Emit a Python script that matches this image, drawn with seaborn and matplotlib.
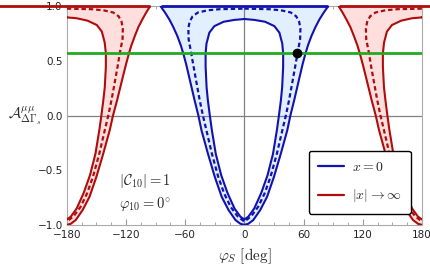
import numpy as np
import matplotlib
matplotlib.use("Agg")
import matplotlib.pyplot as plt
from matplotlib.lines import Line2D
from matplotlib.ticker import MultipleLocator
import seaborn as sns


# ---------------------------------------------------------------------------
# curves, half profiles (the bands are mirror symmetric)
# x = 0 band, centred on phi_S = 0 : phi >= 0 half
blue_outer_phi = [0, 4, 9, 16, 23, 30, 37, 43.5, 46.6, 50.5, 56, 59, 61.8, 64.5, 68, 72, 76,
                  80.5, 84.8]
blue_outer_A   = [-1.0, -0.99, -0.956, -0.865, -0.743, -0.56, -0.346, -0.133, 0.0, 0.142,
                  0.355, 0.47, 0.565, 0.645, 0.73, 0.81, 0.88, 0.945, 1.0]

blue_inner_phi = [0, 10, 21, 30.4, 35.5, 38.4, 39.3, 39.3, 38.3, 37, 35, 33, 29, 23.5, 17, 10, 4, 0]
blue_inner_A   = [0.885, 0.877, 0.86, 0.82, 0.76, 0.66, 0.57, 0.45, 0.26, 0.14, 0.0, -0.13,
                  -0.35, -0.545, -0.71, -0.85, -0.925, -0.95]

blue_dash_phi = [0, 25, 37, 47, 52.5, 55.5, 56.8, 56.5, 54, 51.5, 48.5, 45.3, 42, 38.5, 33,
                 26.5, 20.5, 14, 7, 0]
blue_dash_A   = [0.98, 0.975, 0.965, 0.945, 0.91, 0.86, 0.8, 0.7, 0.578, 0.45, 0.3, 0.142,
                 0.0, -0.133, -0.346, -0.56, -0.712, -0.834, -0.92, -0.97]

# |x| -> inf band, centred on phi_S = +-180 : distance from the edge
red_outer_dphi = [0, 4, 9, 16, 23, 30, 37, 43.5, 46.8, 51, 56.8, 60, 63, 65.5, 69, 72.5, 76.5,
                  80.5, 84.3]
red_outer_A    = [-1.0, -0.99, -0.956, -0.865, -0.743, -0.56, -0.346, -0.133, 0.0, 0.142,
                  0.355, 0.47, 0.57, 0.645, 0.73, 0.81, 0.88, 0.945, 1.0]

red_inner_dphi = [0, 10, 21, 30.4, 35.5, 38.4, 39.6, 39.6, 38.5, 37, 35, 33, 29, 23.5, 17, 10, 4, 0]
red_inner_A    = [0.9, 0.892, 0.87, 0.83, 0.77, 0.67, 0.57, 0.45, 0.26, 0.14, 0.0, -0.13,
                  -0.35, -0.545, -0.71, -0.85, -0.925, -0.95]

red_dash_dphi = [0, 25, 37, 47, 52.5, 55.5, 56.8, 56.5, 53.8, 51.5, 48.5, 45.3, 42, 38.5, 33,
                 26.5, 20.5, 14, 7, 0]
red_dash_A    = [0.98, 0.975, 0.965, 0.945, 0.91, 0.86, 0.8, 0.7, 0.578, 0.45, 0.3, 0.142,
                 0.0, -0.133, -0.346, -0.56, -0.712, -0.834, -0.92, -0.97]

# measured value (green line) and the crossing point
A_meas = 0.578
point_phi = 53.8

x_ticks = [-180, -120, -60, 0, 60, 120, 180]
y_ticks = [-1.0, -0.5, 0.0, 0.5, 1.0]

BLUE = "#1212b0"
RED = "#b00c0c"
GREEN = "#22aa22"
BLUE_FILL = "#e2efff"
RED_FILL = "#ffdede"


def open_curve(c, phi, A):
    # outer edge: mirrored around the centre c
    phi = np.asarray(phi)
    A = np.asarray(A)
    x = np.r_[c - phi[::-1], c + phi[1:]]
    y = np.r_[A[::-1], A[1:]]
    return x, y


def loop_curve(c, phi, A):
    # closed loop: right half then mirrored left half
    phi = np.asarray(phi)
    A = np.asarray(A)
    x = np.r_[c + phi, c - phi[::-1]]
    y = np.r_[A, A[::-1]]
    return x, y


sns.set_theme(style="ticks")
plt.rcParams["font.family"] = ["DejaVu Sans"]
plt.rcParams["mathtext.fontset"] = "cm"

fig = plt.figure(figsize=(4.31, 2.69), dpi=100)
ax = fig.add_axes([0.155, 0.164, 0.824, 0.812])

bands = [
    (0, blue_outer_phi, blue_outer_A, blue_inner_phi, blue_inner_A,
     blue_dash_phi, blue_dash_A, BLUE, BLUE_FILL),
    (-180, red_outer_dphi, red_outer_A, red_inner_dphi, red_inner_A,
     red_dash_dphi, red_dash_A, RED, RED_FILL),
    (180, red_outer_dphi, red_outer_A, red_inner_dphi, red_inner_A,
     red_dash_dphi, red_dash_A, RED, RED_FILL),
]

for c, po, ao, pi, ai, pd_, ad, col, fcol in bands:
    xo, yo = open_curve(c, po, ao)
    xi, yi = loop_curve(c, pi, ai)
    xd, yd = loop_curve(c, pd_, ad)
    ax.fill(xo, yo, color=fcol, lw=0, zorder=1)
    ax.fill(xi, yi, color="white", lw=0, zorder=1.1)
    sns.lineplot(x=xo, y=yo, sort=False, estimator=None, color=col, lw=1.5, ax=ax, zorder=4)
    sns.lineplot(x=xi, y=yi, sort=False, estimator=None, color=col, lw=1.5, ax=ax, zorder=4)
    sns.lineplot(x=xd, y=yd, sort=False, estimator=None, color=col, lw=1.6,
                 linestyle=(0, (2.0, 1.3)), ax=ax, zorder=4)
    # the band edge runs along A = 1 between the two branches
    ax.hlines(1.0, c - po[-1], c + po[-1], color=col, lw=2.0, zorder=5, clip_on=False)

ax.axhline(0, color="#808080", lw=0.9, zorder=2)
ax.axvline(0, color="#808080", lw=0.9, zorder=2)
ax.axhline(A_meas, color=GREEN, lw=2.0, zorder=6)
ax.plot([point_phi], [A_meas], "o", color="black", ms=6, zorder=7)

ax.set_xlim(-180, 180)
ax.set_ylim(-1.0, 1.0)
ax.set_xticks(x_ticks)
ax.set_yticks(y_ticks)
ax.xaxis.set_minor_locator(MultipleLocator(15))
ax.yaxis.set_minor_locator(MultipleLocator(0.1))
ax.tick_params(which="both", direction="in", top=True, right=True, color="#999999",
               labelsize=7.5, labelcolor="#222222")
ax.tick_params(which="major", length=4, width=0.8)
ax.tick_params(which="minor", length=2.3, width=0.6)
ax.tick_params(axis="x", pad=4)
ax.tick_params(axis="y", pad=3)
for s in ax.spines.values():
    s.set_color("#aaaaaa")
    s.set_linewidth(0.8)

ax.set_xlabel(r"$\varphi_S\ [\mathrm{deg}]$", fontsize=11, labelpad=4)
ax.set_ylabel(r"$\mathcal{A}^{\mu\mu}_{\Delta\Gamma_s}$", fontsize=11, rotation=0,
              va="center", ha="center")
ax.yaxis.set_label_coords(-0.118, 0.5)

ax.text(-127, -0.6, r"$|\mathcal{C}_{10}| = 1$", fontsize=10.5, va="center", ha="left")
ax.text(-127, -0.81, r"$\varphi_{10} = 0^{\circ}$", fontsize=10.5, va="center", ha="left")

handles = [Line2D([], [], color=BLUE, lw=1.6), Line2D([], [], color=RED, lw=1.6)]
leg = ax.legend(handles, [r"$x = 0$", r"$|x| \rightarrow \infty$"], loc="lower right",
                bbox_to_anchor=(0.969, 0.052), borderaxespad=0, fontsize=10,
                handlelength=1.9, handletextpad=0.6, labelspacing=1.0, borderpad=0.65,
                fancybox=True, framealpha=1, edgecolor="black")
leg.get_frame().set_linewidth(1.0)
leg.set_zorder(10)

fig.savefig("out.png", dpi=100)
